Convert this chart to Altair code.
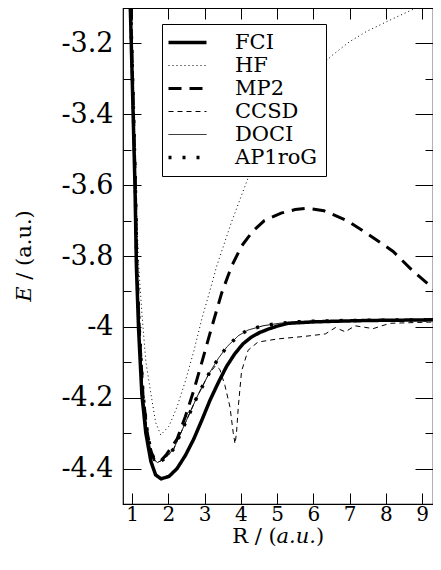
import altair as alt
import pandas as pd

methods = ["FCI", "HF", "MP2", "CCSD", "DOCI", "AP1roG"]

fci_r = [0.95, 1.02, 1.08, 1.12, 1.18, 1.27, 1.38, 1.52, 1.65, 1.80, 2.02, 2.24, 2.47, 2.70, 2.93,
         3.15, 3.38, 3.61, 3.84, 4.06, 4.29, 4.52, 4.74, 5.0, 5.3, 6.0, 6.65, 7.5, 8.5, 9.4]
fci_e = [-3.09, -3.36, -3.60, -3.83, -4.007, -4.19, -4.30, -4.38, -4.418, -4.429, -4.422, -4.40,
         -4.363, -4.317, -4.262, -4.207, -4.157, -4.111, -4.075, -4.048, -4.029, -4.016, -4.007,
         -3.998, -3.99, -3.986, -3.984, -3.982, -3.981, -3.98]

hf_r = [0.97, 1.04, 1.10, 1.18, 1.27, 1.38, 1.52, 1.65, 1.79, 2.02, 2.24, 2.47, 2.70, 2.93, 3.15,
        3.33, 3.74, 4.25, 4.6, 5.0, 5.5, 6.0, 6.5, 7.0, 7.47, 8.2, 8.83, 9.4]
hf_e = [-3.10, -3.36, -3.60, -3.824, -3.961, -4.098, -4.189, -4.27, -4.305, -4.28, -4.226, -4.153,
        -4.07, -3.975, -3.897, -3.83, -3.705, -3.566, -3.49, -3.42, -3.35, -3.285, -3.235, -3.195,
        -3.166, -3.13, -3.10, -3.075]

mp2_r = [0.96, 1.03, 1.09, 1.13, 1.20, 1.30, 1.42, 1.52, 1.61, 1.75, 1.95, 2.24, 2.47, 2.70, 2.93,
         3.20, 3.47, 3.74, 4.02, 4.33, 4.65, 5.11, 5.50, 5.85, 6.29, 6.93, 7.56, 8.20, 8.74, 9.40]
mp2_e = [-3.10, -3.36, -3.60, -3.83, -4.01, -4.19, -4.30, -4.35, -4.375, -4.383, -4.36, -4.317,
         -4.253, -4.18, -4.098, -4.0, -3.905, -3.83, -3.772, -3.73, -3.70, -3.679, -3.669, -3.665,
         -3.672, -3.70, -3.742, -3.787, -3.842, -3.90]

ccsd_r = [0.96, 1.03, 1.09, 1.13, 1.20, 1.30, 1.42, 1.52, 1.61, 1.70, 1.85, 2.0, 2.15, 2.47, 2.79,
          3.11, 3.30, 3.42, 3.56, 3.70, 3.79, 3.84, 3.88, 3.93, 4.02, 4.20, 4.47, 5.02, 5.75, 6.33,
          6.61, 6.88, 7.15, 7.65, 8.11, 9.4]
ccsd_e = [-3.10, -3.36, -3.60, -3.83, -4.01, -4.19, -4.30, -4.35, -4.375, -4.383, -4.375, -4.362,
          -4.344, -4.271, -4.198, -4.134, -4.11, -4.12, -4.165, -4.226, -4.299, -4.33, -4.30, -4.226,
          -4.125, -4.066, -4.043, -4.034, -4.027, -4.02, -4.002, -4.014, -3.997, -4.005, -3.99, -3.986]

doci_r = [0.96, 1.03, 1.09, 1.13, 1.20, 1.30, 1.42, 1.52, 1.61, 1.70, 1.85, 2.0, 2.15, 2.47, 2.79,
          3.11, 3.38, 3.61, 3.93, 4.20, 4.61, 5.06, 5.5, 6.0, 7.0, 8.0, 9.4]
doci_e = [-3.10, -3.36, -3.60, -3.83, -4.01, -4.19, -4.30, -4.35, -4.375, -4.383, -4.375, -4.362,
          -4.344, -4.271, -4.198, -4.134, -4.089, -4.057, -4.025, -4.009, -3.997, -3.99, -3.986,
          -3.984, -3.982, -3.981, -3.98]

ap1rog_r = [0.96, 1.03, 1.09, 1.13, 1.20, 1.30, 1.42, 1.52, 1.61, 1.70, 1.85, 2.0, 2.15, 2.47, 2.79,
            3.11, 3.38, 3.61, 3.93, 4.20, 4.61, 5.06, 5.5, 6.0, 7.0, 8.0, 9.4]
ap1rog_e = [-3.10, -3.36, -3.60, -3.83, -4.01, -4.19, -4.30, -4.35, -4.375, -4.383, -4.375, -4.362,
            -4.344, -4.271, -4.198, -4.134, -4.089, -4.057, -4.025, -4.009, -3.997, -3.99, -3.986,
            -3.984, -3.982, -3.981, -3.98]

x_major = [1, 2, 3, 4, 5, 6, 7, 8, 9]
y_major = [-4.4, -4.2, -4, -3.8, -3.6, -3.4, -3.2]
y_minor = [-4.3, -4.1, -3.9, -3.7, -3.5, -3.3]

# axis titles, split so that the italic parts can be set in italics
x_title = ["R / (", "a.u.", ")"]
y_title = ["E", "/ (a.u.)"]

series = [("FCI", fci_r, fci_e), ("HF", hf_r, hf_e), ("MP2", mp2_r, mp2_e),
          ("CCSD", ccsd_r, ccsd_e), ("DOCI", doci_r, doci_e), ("AP1roG", ap1rog_r, ap1rog_e)]
rows = []
for m, rs, es in series:
    for i, (r, e) in enumerate(zip(rs, es)):
        rows.append({"method": m, "R": r, "E": e, "i": i})
df = pd.DataFrame(rows)

dashes = [[1, 0], [1, 3], [13, 8], [5, 4], [1, 0], [3, 11]]
widths = [3.5, 1, 3, 1, 1, 3.5]

W, H = 310, 496
FONT = "DejaVu Serif"
TFS = 21  # title font size

xs = alt.Scale(domain=[0.75, 9.3], nice=False, zero=False)
ys = alt.Scale(domain=[-4.5, -3.1], nice=False, zero=False)

x_axis = alt.Axis(
    orient="bottom", values=x_major, ticks=False, domain=False, grid=False, labelFont=FONT,
    labelFontSize=20, labelColor="black", labelPadding=0, title=None)
y_axis = alt.Axis(
    orient="left", values=y_major, labelExpr="'' + datum.value", ticks=False, domain=False,
    grid=False, labelFont=FONT, labelFontSize=27, labelColor="black", labelPadding=10,
    title=None)


def tick_axis(orient, values, size):
    return alt.Axis(orient=orient, values=values, ticks=True, tickSize=size, offset=-size,
                    tickColor="black", tickWidth=1, labels=False, domain=False, grid=False,
                    title=None)


leg = dict(title=None, orient="none", legendX=39, legendY=16,
           symbolType="M-2.235,0H2.235", symbolSize=289, symbolStrokeColor="black",
           symbolOffset=7, labelOffset=37, labelFont=FONT, labelFontSize=21,
           labelColor="black", strokeColor="black", fillColor="white", padding=8,
           rowPadding=1, cornerRadius=0, labelLimit=400)

lines = alt.Chart(df).mark_line(clip=True, color="black", strokeCap="butt").encode(
    x=alt.X("R:Q", scale=xs, axis=x_axis),
    y=alt.Y("E:Q", scale=ys, axis=y_axis),
    strokeDash=alt.StrokeDash("method:N", scale=alt.Scale(domain=methods, range=dashes),
                              legend=alt.Legend(**leg)),
    strokeWidth=alt.StrokeWidth("method:N",
                                scale=alt.Scale(type="ordinal", domain=methods, range=widths),
                                legend=alt.Legend(**leg)),
    order=alt.Order("i:Q"),
)

xt = pd.DataFrame({"v": x_major})
ytm = pd.DataFrame({"v": y_major})
ytn = pd.DataFrame({"v": y_minor})


def xcarrier(orient, size):
    return alt.Chart(xt).mark_point(opacity=0).encode(
        x=alt.X("v:Q", scale=xs, axis=tick_axis(orient, x_major, size)))


def ycarrier(d, vals, orient, size):
    return alt.Chart(d).mark_point(opacity=0).encode(
        y=alt.Y("v:Q", scale=ys, axis=tick_axis(orient, vals, size)))


def title_piece(text, x, y, align, italic=False, angle=0):
    kw = dict(align=align, baseline="alphabetic", font=FONT, fontSize=TFS, color="black",
              fontStyle="italic" if italic else "normal")
    if angle:
        kw["angle"] = angle
    return alt.Chart(pd.DataFrame({"t": [text]})).mark_text(**kw).encode(
        x=alt.value(x), y=alt.value(y), text="t:N")


# x title: centred under the plot
xc = W / 2
w1 = 2.133 * TFS   # "R / ("
w2 = 1.876 * TFS   # "a.u." (italic)
w3 = 0.39 * TFS    # ")"
x0 = xc - (w1 + w2 + w3) / 2
xs1 = x0 + w1
xs2 = xs1 + w2
ybase = H + 39

# y title: rotated, centred on the plot
wE = 0.73 * TFS
wsp = 0.318 * TFS
wR = 3.311 * TFS
ysplit = H / 2 + (wE + wsp + wR) / 2 - wE
xbase = -92

titles = [
    title_piece(x_title[0], xs1, ybase, "right"),
    title_piece(x_title[1], xs1, ybase, "left", italic=True),
    title_piece(x_title[2], xs2, ybase, "left"),
    title_piece(y_title[0], xbase, ysplit, "right", italic=True, angle=270),
    title_piece(y_title[1], xbase, ysplit - wsp, "left", angle=270),
]

chart = alt.layer(
    lines,
    xcarrier("top", 11),
    xcarrier("bottom", 11),
    ycarrier(ytm, y_major, "right", 18),
    ycarrier(ytm, y_major, "left", 18),
    ycarrier(ytn, y_minor, "left", 8),
    ycarrier(ytn, y_minor, "right", 8),
    *titles,
).resolve_axis(x="independent", y="independent").properties(
    width=W, height=H,
    padding={"left": 115, "top": 0, "right": 0, "bottom": 52},
    autosize=alt.AutoSizeParams(type="none"),
).configure_view(stroke="black", strokeWidth=1.2)

chart.save("out.html", embed_options={"renderer": "svg", "actions": False})
